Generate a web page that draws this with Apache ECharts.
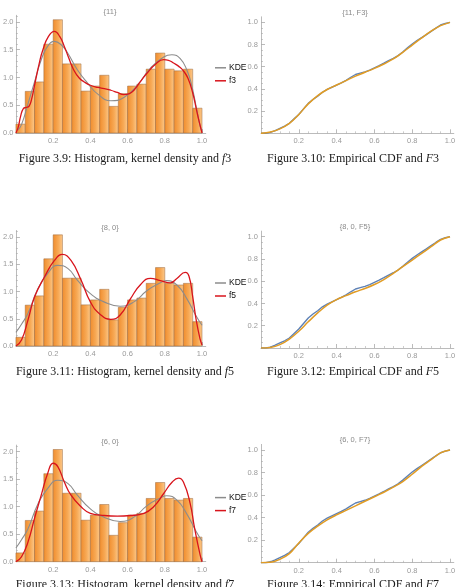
<!DOCTYPE html>
<html>
<head>
<meta charset="utf-8" />
<title>Histogram, kernel density and empirical CDF</title>
<script src="https://cdn.jsdelivr.net/npm/echarts@6/dist/echarts.min.js"></script>
<style>
    html, body { margin: 0; padding: 0; background: #fff; }
    #chart { width: 462px; height: 587px; }
</style>
</head>
<body>
<div id="chart"></div>
<script>
// histogram of the sample (bins of width 0.05) - same sample in every row
const binEdges = [0, 0.05, 0.1, 0.15, 0.2, 0.25, 0.3, 0.35, 0.4, 0.45, 0.5,
                  0.55, 0.6, 0.65, 0.7, 0.75, 0.8, 0.85, 0.9, 0.95, 1.0];
const binHeights = [0.16, 0.75, 0.92, 1.60, 2.04, 1.245, 1.245, 0.755, 0.846, 1.04,
                    0.48, 0.71, 0.846, 0.88, 1.15, 1.44, 1.15, 1.12, 1.15, 0.447];

// kernel density estimates
const kdeA = [[0.01, 0.05], [0.03, 0.15], [0.065, 0.53], [0.1, 0.92], [0.136, 1.32], [0.17, 1.56],
              [0.207, 1.65], [0.243, 1.59], [0.278, 1.44], [0.33, 1.14], [0.385, 0.9], [0.44, 0.70],
              [0.51, 0.58], [0.58, 0.64], [0.652, 0.86], [0.723, 1.17], [0.794, 1.37], [0.838, 1.41],
              [0.883, 1.34], [0.92, 1.12], [0.945, 0.85], [0.97, 0.45], [0.99, 0.12], [1.0, 0.03]];
const kdeB = [[0, 0.25], [0.03, 0.4], [0.065, 0.6], [0.118, 1.05], [0.17, 1.33], [0.225, 1.48],
              [0.28, 1.42], [0.33, 1.21], [0.4, 0.96], [0.473, 0.81], [0.56, 0.73], [0.634, 0.81],
              [0.705, 1.02], [0.776, 1.16], [0.81, 1.20], [0.865, 1.12], [0.918, 0.87], [0.97, 0.54],
              [1.0, 0.38]];

// fitted densities
const f3 = [[0, 0], [0.012, 0.1], [0.025, 0.3], [0.04, 0.44], [0.055, 0.46], [0.07, 0.48], [0.085, 0.62],
            [0.1, 0.86], [0.125, 1.25], [0.145, 1.5], [0.175, 1.74], [0.207, 1.83], [0.235, 1.74],
            [0.26, 1.56], [0.285, 1.34], [0.31, 1.14], [0.34, 0.99], [0.367, 0.92], [0.4, 0.86],
            [0.44, 0.82], [0.475, 0.80], [0.51, 0.77], [0.545, 0.73], [0.58, 0.69], [0.61, 0.71],
            [0.634, 0.77], [0.67, 0.93], [0.705, 1.08], [0.75, 1.24], [0.794, 1.32], [0.82, 1.31],
            [0.847, 1.26], [0.875, 1.2], [0.9, 1.12], [0.925, 0.98], [0.95, 0.72], [0.97, 0.42],
            [0.985, 0.2], [1.0, 0]];
const f5 = [[0, 0], [0.03, 0.11], [0.065, 0.48], [0.1, 0.9], [0.154, 1.27], [0.207, 1.57], [0.25, 1.68],
            [0.296, 1.57], [0.35, 1.21], [0.4, 0.81], [0.456, 0.57], [0.51, 0.49], [0.56, 0.57],
            [0.616, 0.87], [0.67, 1.13], [0.723, 1.24], [0.776, 1.20], [0.83, 1.16], [0.865, 1.24],
            [0.91, 1.35], [0.93, 1.28], [0.95, 0.9], [0.97, 0.45], [0.99, 0.12], [1.0, 0.02]];
const f7 = [[0, 0], [0.03, 0.09], [0.065, 0.36], [0.1, 0.79], [0.136, 1.21], [0.17, 1.6], [0.2, 1.79],
            [0.225, 1.73], [0.26, 1.45], [0.296, 1.21], [0.35, 1.0], [0.4, 0.88], [0.474, 0.84],
            [0.545, 0.83], [0.616, 0.84], [0.688, 0.88], [0.74, 1.0], [0.794, 1.24], [0.84, 1.45],
            [0.874, 1.52], [0.9, 1.45], [0.936, 1.06], [0.96, 0.61], [0.99, 0.12], [1.0, 0]];

// empirical CDF of the sample
const ecdf = [[0, 0], [0.025, 0], [0.05, 0.008], [0.075, 0.025], [0.1, 0.045], [0.125, 0.065],
              [0.15, 0.09], [0.175, 0.13], [0.2, 0.17], [0.225, 0.22], [0.25, 0.27], [0.275, 0.305],
              [0.3, 0.335], [0.325, 0.37], [0.35, 0.395], [0.375, 0.415], [0.4, 0.435], [0.425, 0.455],
              [0.45, 0.478], [0.475, 0.505], [0.5, 0.53], [0.525, 0.542], [0.55, 0.554], [0.575, 0.57],
              [0.6, 0.59], [0.625, 0.61], [0.65, 0.632], [0.675, 0.655], [0.7, 0.676], [0.725, 0.70],
              [0.75, 0.733], [0.775, 0.77], [0.8, 0.805], [0.825, 0.835], [0.85, 0.863], [0.875, 0.89],
              [0.9, 0.919], [0.925, 0.948], [0.95, 0.976], [0.975, 0.99], [1.0, 1.0]];

// fitted CDFs
const F3 = [[0, 0], [0.05, 0.012], [0.1, 0.04], [0.15, 0.09], [0.2, 0.17], [0.25, 0.265], [0.3, 0.34],
            [0.35, 0.395], [0.4, 0.435], [0.45, 0.475], [0.5, 0.515], [0.55, 0.55], [0.6, 0.585],
            [0.65, 0.625], [0.7, 0.67], [0.75, 0.73], [0.8, 0.795], [0.85, 0.86], [0.9, 0.92],
            [0.95, 0.97], [1.0, 1.0]];
const F5 = [[0, 0], [0.05, 0.005], [0.1, 0.03], [0.15, 0.08], [0.2, 0.15], [0.25, 0.235], [0.3, 0.315],
            [0.35, 0.385], [0.4, 0.435], [0.45, 0.47], [0.5, 0.505], [0.55, 0.535], [0.6, 0.57],
            [0.65, 0.615], [0.7, 0.67], [0.75, 0.73], [0.8, 0.79], [0.85, 0.85], [0.9, 0.91],
            [0.95, 0.97], [1.0, 1.0]];
const F7 = [[0, 0], [0.05, 0.003], [0.1, 0.03], [0.15, 0.08], [0.2, 0.175], [0.25, 0.26], [0.3, 0.325],
            [0.35, 0.38], [0.4, 0.425], [0.45, 0.465], [0.5, 0.505], [0.55, 0.545], [0.6, 0.585],
            [0.65, 0.625], [0.7, 0.67], [0.75, 0.72], [0.8, 0.785], [0.85, 0.855], [0.9, 0.915],
            [0.95, 0.975], [1.0, 1.0]];

const xTicks = [0.2, 0.4, 0.6, 0.8, 1.0];
const histYTicks = [0, 0.5, 1.0, 1.5, 2.0];
const cdfYTicks = [0.2, 0.4, 0.6, 0.8, 1.0];

const histTitles = ['{11}', '{8, 0}', '{6, 0}'];
const cdfTitles = ['{11, F3}', '{8, 0, F5}', '{6, 0, F7}'];
const fitNames = ['f3', 'f5', 'f7'];
const fitCurves = [f3, f5, f7];
const kdeCurves = [kdeA, kdeB, kdeB];
const cdfCurves = [F3, F5, F7];
const captionsLeft = ['Figure 3.9: Histogram, kernel density and {i|f}3',
                      'Figure 3.11: Histogram, kernel density and {i|f}5',
                      'Figure 3.13: Histogram, kernel density and {i|f}7'];
const captionsRight = ['Figure 3.10: Empirical CDF and {i|F}3',
                       'Figure 3.12: Empirical CDF and {i|F}5',
                       'Figure 3.14: Empirical CDF and {i|F}7'];

// layout (pixels)
const histTop = [15.3, 230.5, 445.1], histH = [117.7, 115.5, 116.6];
const cdfTop = [16.8, 231.1, 444.4], cdfH = [116.5, 116.9, 118.3];
const captionY = [158.5, 372, 585];

let chart = echarts.init(document.getElementById('chart'), null, { renderer: 'canvas' });

const axisGray = '#a9a9a9';
const labelStyle = { color: '#9a9a9a', fontSize: 7.5, fontFamily: 'Liberation Sans' };
const barFill = new echarts.graphic.LinearGradient(0, 0, 1, 0, [
    { offset: 0, color: '#F08C2C' },
    { offset: 0.55, color: '#F7A955' },
    { offset: 1, color: '#FCC98C' }
]);

function makeAxis(gridIndex, max, interval, ticks, minorSplit, labelMargin) {
    return {
        type: 'value', gridIndex: gridIndex, min: 0, max: max, interval: interval,
        axisLine: { show: true, lineStyle: { color: axisGray, width: 0.8 } },
        axisTick: { show: true, inside: true, length: 4, customValues: ticks,
                    lineStyle: { color: axisGray, width: 0.8 } },
        minorTick: { show: true, splitNumber: minorSplit, length: 2,
                     lineStyle: { color: axisGray, width: 0.6 } },
        axisLabel: Object.assign({ customValues: ticks, margin: labelMargin,
                                   formatter: v => v.toFixed(1) }, labelStyle),
        splitLine: { show: false }
    };
}

function renderBin(params, api) {
    const lo = api.coord([api.value(0), 0]);
    const hi = api.coord([api.value(1), api.value(2)]);
    return {
        type: 'rect',
        shape: { x: lo[0], y: hi[1], width: hi[0] - lo[0], height: lo[1] - hi[1] },
        style: { fill: barFill, stroke: '#9b6b43', lineWidth: 0.5 }
    };
}

const grids = [], xAxes = [], yAxes = [], series = [], legends = [], texts = [];
const binData = binHeights.map((h, i) => [binEdges[i], binEdges[i + 1], h]);
const capRich = { i: { fontStyle: 'italic', fontSize: 12, fontFamily: 'Liberation Serif', color: '#1a1a1a' } };

for (let r = 0; r < 3; r++) {
    // histogram panel
    let g = grids.length;
    grids.push({ left: 14.5, top: histTop[r], width: 191.25, height: histH[r] });
    xAxes.push(makeAxis(g, 1.02, 0.2, xTicks, 4, 4));
    yAxes.push(makeAxis(g, 2.12, 0.5, histYTicks, 5, 2.5));
    series.push({ type: 'custom', xAxisIndex: g, yAxisIndex: g, renderItem: renderBin,
                  encode: { x: [0, 1], y: 2 }, data: binData, silent: true });
    series.push({ type: 'line', name: 'KDE', xAxisIndex: g, yAxisIndex: g, data: kdeCurves[r],
                  smooth: 0.5, showSymbol: false, lineStyle: { color: '#8c8c8c', width: 1.1 },
                  itemStyle: { color: '#8c8c8c' } });
    series.push({ type: 'line', name: fitNames[r], xAxisIndex: g, yAxisIndex: g, data: fitCurves[r],
                  smooth: 0.5, showSymbol: false, lineStyle: { color: '#d8141c', width: 1.3 },
                  itemStyle: { color: '#d8141c' } });
    legends.push({ data: ['KDE', fitNames[r]], left: 215, top: histTop[r] + 48, orient: 'vertical',
                   icon: 'rect', itemWidth: 11, itemHeight: 1.5, itemGap: 4, selectedMode: false,
                   padding: 0,
                   textStyle: { color: '#111', fontSize: 8.5, fontFamily: 'Liberation Sans',
                                padding: [0, 0, 0, -2] } });
    texts.push({ type: 'text', x: 110, y: histTop[r] - 3, silent: true,
                 style: { text: histTitles[r], align: 'center', verticalAlign: 'middle',
                          fill: '#8a8a8a', fontSize: 7.5, fontFamily: 'Liberation Sans' } });

    // CDF panel
    g = grids.length;
    grids.push({ left: 261, top: cdfTop[r], width: 192.8, height: cdfH[r] });
    xAxes.push(makeAxis(g, 1.02, 0.2, xTicks, 4, 4));
    yAxes.push(makeAxis(g, 1.05, 0.2, cdfYTicks, 4, 3));
    series.push({ type: 'line', name: 'ECDF', xAxisIndex: g, yAxisIndex: g, data: ecdf,
                  showSymbol: false, lineStyle: { color: '#5E81B5', width: 1.4 } });
    series.push({ type: 'line', name: 'F' + (r * 2 + 3), xAxisIndex: g, yAxisIndex: g, data: cdfCurves[r],
                  smooth: 0.4, showSymbol: false, lineStyle: { color: '#E19C24', width: 1.5 } });
    texts.push({ type: 'text', x: 355, y: cdfTop[r] - 4, silent: true,
                 style: { text: cdfTitles[r], align: 'center', verticalAlign: 'middle',
                          fill: '#8a8a8a', fontSize: 7.5, fontFamily: 'Liberation Sans' } });

    // captions
    texts.push({ type: 'text', x: 125, y: captionY[r], silent: true,
                 style: { text: captionsLeft[r], rich: capRich, align: 'center', verticalAlign: 'middle',
                          fill: '#1a1a1a', fontSize: 12, fontFamily: 'Liberation Serif' } });
    texts.push({ type: 'text', x: 353, y: captionY[r], silent: true,
                 style: { text: captionsRight[r], rich: capRich, align: 'center', verticalAlign: 'middle',
                          fill: '#1a1a1a', fontSize: 12, fontFamily: 'Liberation Serif' } });
}

chart.setOption({
    animation: false,
    backgroundColor: '#fff',
    grid: grids,
    xAxis: xAxes,
    yAxis: yAxes,
    legend: legends,
    series: series,
    graphic: texts
});
</script>
</body>
</html>
